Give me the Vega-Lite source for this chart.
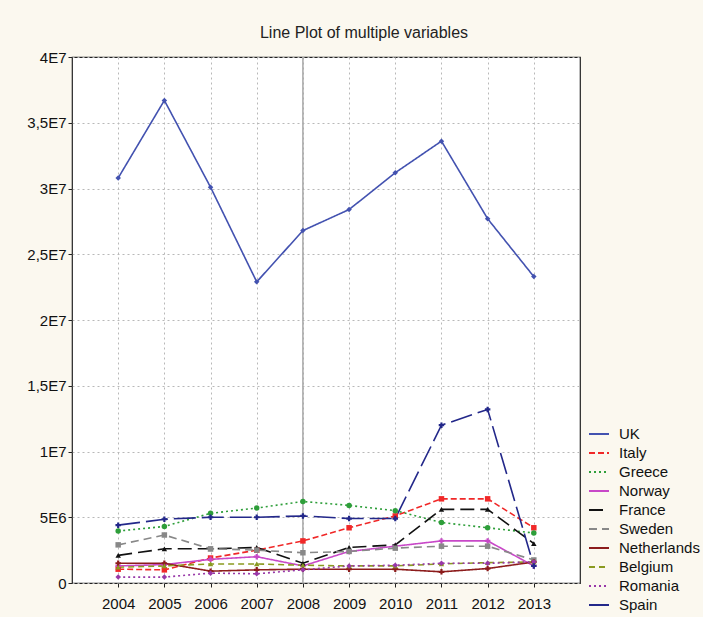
{
  "$schema": "https://vega.github.io/schema/vega-lite/v6.json",
  "width": 508,
  "height": 526,
  "autosize": {"type": "none"},
  "padding": {"left": 72, "top": 57, "right": 123, "bottom": 34},
  "background": "#fbf8ef",
  "title": {"text": "Line Plot of multiple variables", "fontSize": 16, "font": "Liberation Sans", "fontWeight": "normal", "color": "#222", "anchor": "middle", "offset": 9, "dx": 38},
  "config": {
    "view": {"fill": "white", "stroke": "#222", "strokeWidth": 1.2},
    "axis": {"labelFont": "Liberation Sans", "labelFontSize": 15, "labelColor": "#111", "tickColor": "#222", "tickSize": 4, "domain": false, "gridColor": "#b8b8b8", "gridDash": [2, 3], "gridWidth": 1},
    "legend": {"labelFont": "Liberation Sans", "labelFontSize": 15, "labelColor": "#111"}
  },
  "resolve": {"scale": {"shape": "independent"}, "legend": {"shape": "independent"}},
  "data": {"values": [
    {"country": "UK", "year": 2004, "value": 30800000},
    {"country": "UK", "year": 2005, "value": 36700000},
    {"country": "UK", "year": 2006, "value": 30100000},
    {"country": "UK", "year": 2007, "value": 22900000},
    {"country": "UK", "year": 2008, "value": 26800000},
    {"country": "UK", "year": 2009, "value": 28400000},
    {"country": "UK", "year": 2010, "value": 31200000},
    {"country": "UK", "year": 2011, "value": 33600000},
    {"country": "UK", "year": 2012, "value": 27700000},
    {"country": "UK", "year": 2013, "value": 23300000},
    {"country": "Italy", "year": 2004, "value": 1050000},
    {"country": "Italy", "year": 2005, "value": 1000000},
    {"country": "Italy", "year": 2006, "value": 1900000},
    {"country": "Italy", "year": 2007, "value": 2500000},
    {"country": "Italy", "year": 2008, "value": 3200000},
    {"country": "Italy", "year": 2009, "value": 4200000},
    {"country": "Italy", "year": 2010, "value": 5100000},
    {"country": "Italy", "year": 2011, "value": 6400000},
    {"country": "Italy", "year": 2012, "value": 6400000},
    {"country": "Italy", "year": 2013, "value": 4200000},
    {"country": "Greece", "year": 2004, "value": 3950000},
    {"country": "Greece", "year": 2005, "value": 4300000},
    {"country": "Greece", "year": 2006, "value": 5300000},
    {"country": "Greece", "year": 2007, "value": 5700000},
    {"country": "Greece", "year": 2008, "value": 6200000},
    {"country": "Greece", "year": 2009, "value": 5900000},
    {"country": "Greece", "year": 2010, "value": 5500000},
    {"country": "Greece", "year": 2011, "value": 4600000},
    {"country": "Greece", "year": 2012, "value": 4200000},
    {"country": "Greece", "year": 2013, "value": 3800000},
    {"country": "Norway", "year": 2004, "value": 1300000},
    {"country": "Norway", "year": 2005, "value": 1400000},
    {"country": "Norway", "year": 2006, "value": 1800000},
    {"country": "Norway", "year": 2007, "value": 2000000},
    {"country": "Norway", "year": 2008, "value": 1300000},
    {"country": "Norway", "year": 2009, "value": 2400000},
    {"country": "Norway", "year": 2010, "value": 2800000},
    {"country": "Norway", "year": 2011, "value": 3200000},
    {"country": "Norway", "year": 2012, "value": 3200000},
    {"country": "Norway", "year": 2013, "value": 1300000},
    {"country": "France", "year": 2004, "value": 2100000},
    {"country": "France", "year": 2005, "value": 2600000},
    {"country": "France", "year": 2006, "value": 2600000},
    {"country": "France", "year": 2007, "value": 2700000},
    {"country": "France", "year": 2008, "value": 1500000},
    {"country": "France", "year": 2009, "value": 2700000},
    {"country": "France", "year": 2010, "value": 2900000},
    {"country": "France", "year": 2011, "value": 5600000},
    {"country": "France", "year": 2012, "value": 5600000},
    {"country": "France", "year": 2013, "value": 3000000},
    {"country": "Sweden", "year": 2004, "value": 2900000},
    {"country": "Sweden", "year": 2005, "value": 3650000},
    {"country": "Sweden", "year": 2006, "value": 2600000},
    {"country": "Sweden", "year": 2007, "value": 2500000},
    {"country": "Sweden", "year": 2008, "value": 2300000},
    {"country": "Sweden", "year": 2009, "value": 2400000},
    {"country": "Sweden", "year": 2010, "value": 2650000},
    {"country": "Sweden", "year": 2011, "value": 2800000},
    {"country": "Sweden", "year": 2012, "value": 2800000},
    {"country": "Sweden", "year": 2013, "value": 1750000},
    {"country": "Netherlands", "year": 2004, "value": 1500000},
    {"country": "Netherlands", "year": 2005, "value": 1500000},
    {"country": "Netherlands", "year": 2006, "value": 900000},
    {"country": "Netherlands", "year": 2007, "value": 1000000},
    {"country": "Netherlands", "year": 2008, "value": 1050000},
    {"country": "Netherlands", "year": 2009, "value": 1050000},
    {"country": "Netherlands", "year": 2010, "value": 1050000},
    {"country": "Netherlands", "year": 2011, "value": 850000},
    {"country": "Netherlands", "year": 2012, "value": 1100000},
    {"country": "Netherlands", "year": 2013, "value": 1600000},
    {"country": "Belgium", "year": 2004, "value": 1200000},
    {"country": "Belgium", "year": 2005, "value": 1300000},
    {"country": "Belgium", "year": 2006, "value": 1450000},
    {"country": "Belgium", "year": 2007, "value": 1450000},
    {"country": "Belgium", "year": 2008, "value": 1350000},
    {"country": "Belgium", "year": 2009, "value": 1300000},
    {"country": "Belgium", "year": 2010, "value": 1300000},
    {"country": "Belgium", "year": 2011, "value": 1450000},
    {"country": "Belgium", "year": 2012, "value": 1550000},
    {"country": "Belgium", "year": 2013, "value": 1600000},
    {"country": "Romania", "year": 2004, "value": 450000},
    {"country": "Romania", "year": 2005, "value": 450000},
    {"country": "Romania", "year": 2006, "value": 750000},
    {"country": "Romania", "year": 2007, "value": 700000},
    {"country": "Romania", "year": 2008, "value": 1000000},
    {"country": "Romania", "year": 2009, "value": 1300000},
    {"country": "Romania", "year": 2010, "value": 1350000},
    {"country": "Romania", "year": 2011, "value": 1500000},
    {"country": "Romania", "year": 2012, "value": 1500000},
    {"country": "Romania", "year": 2013, "value": 1600000},
    {"country": "Spain", "year": 2004, "value": 4400000},
    {"country": "Spain", "year": 2005, "value": 4850000},
    {"country": "Spain", "year": 2006, "value": 5000000},
    {"country": "Spain", "year": 2007, "value": 5000000},
    {"country": "Spain", "year": 2008, "value": 5100000},
    {"country": "Spain", "year": 2009, "value": 4900000},
    {"country": "Spain", "year": 2010, "value": 4900000},
    {"country": "Spain", "year": 2011, "value": 12000000},
    {"country": "Spain", "year": 2012, "value": 13200000},
    {"country": "Spain", "year": 2013, "value": 1300000}
  ]},
  "encoding": {
    "x": {"field": "year", "type": "quantitative", "scale": {"domain": [2003, 2014], "nice": false, "zero": false},
      "axis": {"values": [2004, 2005, 2006, 2007, 2008, 2009, 2010, 2011, 2012, 2013], "format": "d", "title": null, "grid": true, "labelPadding": 9}},
    "y": {"field": "value", "type": "quantitative", "scale": {"domain": [0, 40000000], "nice": false},
      "axis": {"values": [0, 5000000, 10000000, 15000000, 20000000, 25000000, 30000000, 35000000, 40000000], "title": null, "grid": true, "labelPadding": 2,
        "labelExpr": "datum.value == 0 ? '0' : replace(format(datum.value / pow(10, floor(log(datum.value) / LN10 + 1e-9)), '.2~f'), '.', ',') + 'E' + floor(log(datum.value) / LN10 + 1e-9)"}}
  },
  "layer": [
    {
      "data": {"values": [{"year": 2008}]},
      "mark": {"type": "rule", "color": "#a8a8a8", "strokeWidth": 1.5},
      "encoding": {"x": {"field": "year", "type": "quantitative"}, "y": null}
    },
    {
      "mark": {"type": "line", "strokeWidth": 1.6},
      "encoding": {
        "color": {"field": "country", "type": "nominal",
          "scale": {"domain": ["UK", "Italy", "Greece", "Norway", "France", "Sweden", "Netherlands", "Belgium", "Romania", "Spain"],
            "range": ["#4352b0", "#f02828", "#2e9e3a", "#c848c8", "#111111", "#888888", "#8c1c1c", "#8a9a20", "#9838a8", "#23288a"]},
          "legend": {"orient": "none", "legendX": 516, "legendY": 366, "title": null, "symbolType": "stroke", "symbolSize": 400, "symbolStrokeWidth": 2, "rowPadding": 0, "labelOffset": 9}},
        "strokeDash": {"field": "country", "type": "nominal",
          "scale": {"domain": ["UK", "Italy", "Greece", "Norway", "France", "Sweden", "Netherlands", "Belgium", "Romania", "Spain"],
            "range": [[1, 0], [6, 3], [2, 3], [1, 0], [14, 6], [8, 5], [1, 0], [6, 4], [2, 3], [22, 6]]},
          "legend": {"orient": "none", "legendX": 516, "legendY": 366, "title": null, "symbolType": "stroke", "symbolSize": 400, "symbolStrokeWidth": 2, "rowPadding": 0, "labelOffset": 9}}
      }
    },
    {
      "mark": {"type": "point", "filled": true, "size": 30, "opacity": 1},
      "encoding": {
        "color": {"field": "country", "type": "nominal", "legend": null},
        "shape": {"field": "country", "type": "nominal", "legend": null,
          "scale": {"domain": ["UK", "Italy", "Greece", "Norway", "France", "Sweden", "Netherlands", "Belgium", "Romania", "Spain"],
            "range": ["diamond", "square", "circle", "cross", "triangle-up", "square", "cross", "triangle-up", "diamond", "cross"]}}
      }
    }
  ]
}
